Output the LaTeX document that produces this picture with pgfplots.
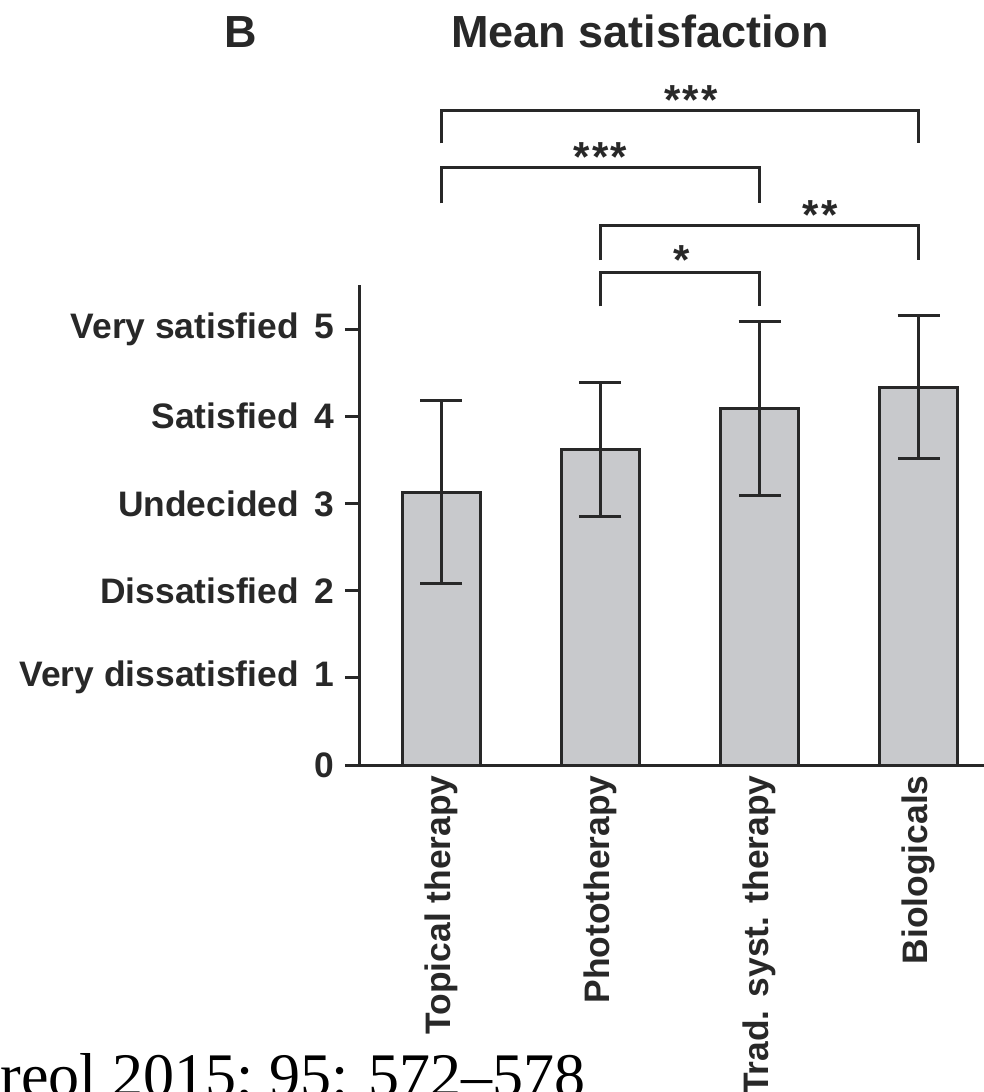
\documentclass[border=0pt]{standalone}
\usepackage{fontspec}
\setmainfont{Liberation Sans}
\newfontfamily\seriffont{Liberation Serif}
\usepackage{pgfplots}
\pgfplotsset{compat=1.18}
\definecolor{barfill}{RGB}{200,201,204}
\definecolor{linec}{RGB}{40,40,40}
\pgfplotstableread{
x y e
0 3.13 1.05
1 3.62 0.77
2 4.09 1.00
3 4.33 0.82
}\satdata
\begin{document}
\begin{tikzpicture}
\path[use as bounding box] (0,0) rectangle (492pt,546pt);
\begin{axis}[
  at={(180pt,163.5pt)}, anchor=south west,
  scale only axis, width=312pt, height=239.8pt,
  xmin=-0.51, xmax=3.41, ymin=0, ymax=5.5,
  axis x line=bottom, axis y line=left,
  axis line style={-, line width=1.5pt, draw=linec},
  xtick={0,1,2,3},
  xticklabels={Topical therapy, Phototherapy, Trad. syst. therapy, Biologicals},
  xtick style={draw=none},
  ytick={0,1,2,3,4,5},
  yticklabels={0, {Very dissatisfied\hspace{0.45em}1}, {Dissatisfied\hspace{0.45em}2}, {Undecided\hspace{0.45em}3}, {Satisfied\hspace{0.45em}4}, {Very satisfied\hspace{0.45em}5}},
  ytick style={line width=1.5pt, draw=linec},
  tick align=outside, major tick length=7.5pt,
  ticklabel style={font=\fontsize{17.7}{21}\selectfont\bfseries, text=linec},
  xticklabel style={rotate=90, anchor=east, inner sep=0pt},
  xticklabel shift=-2.5pt,
  yticklabel style={inner sep=0pt, xshift=-5pt},
  clip=false,
]
\addplot[ybar, bar width=39pt, fill=barfill, draw=linec, line width=1.5pt,
  error bars/.cd, y dir=both, y explicit,
  error bar style={line width=1.5pt, draw=linec},
  error mark options={rotate=90, draw=linec, line width=1.5pt, mark size=10.5pt}]
  table[x=x, y=y, y error=e] {\satdata};
% significance brackets
\addplot[draw=linec, line width=1.5pt, mark=none] coordinates {(0,7.13) (0,7.51) (3,7.51) (3,7.13)};
\addplot[draw=linec, line width=1.5pt, mark=none] coordinates {(0,6.44) (0,6.85) (2,6.85) (2,6.44)};
\addplot[draw=linec, line width=1.5pt, mark=none] coordinates {(1,5.79) (1,6.19) (3,6.19) (3,5.79)};
\addplot[draw=linec, line width=1.5pt, mark=none] coordinates {(1,5.26) (1,5.65) (2,5.65) (2,5.26)};
\node[font=\fontsize{21}{25}\selectfont\bfseries, text=linec] at (axis cs:1.57,7.63) {*\kern1.2pt*\kern1.2pt*};
\node[font=\fontsize{21}{25}\selectfont\bfseries, text=linec] at (axis cs:1.00,6.97) {*\kern1.2pt*\kern1.2pt*};
\node[font=\fontsize{21}{25}\selectfont\bfseries, text=linec] at (axis cs:2.38,6.31) {*\kern1.2pt*};
\node[font=\fontsize{21}{25}\selectfont\bfseries, text=linec] at (axis cs:1.51,5.79) {*};
\end{axis}
\node[font=\fontsize{22.5}{27}\selectfont\bfseries, text=linec, anchor=base] at (120.5pt,522pt) {B};
\node[font=\fontsize{22.5}{27}\selectfont\bfseries, text=linec, anchor=base] at (320pt,522pt) {Mean satisfaction};
\node[font=\seriffont\fontsize{31}{36}\selectfont, anchor=base west, inner sep=0pt] at (0pt,-2pt) {reol 2015; 95: 572–578};
\end{tikzpicture}
\end{document}
